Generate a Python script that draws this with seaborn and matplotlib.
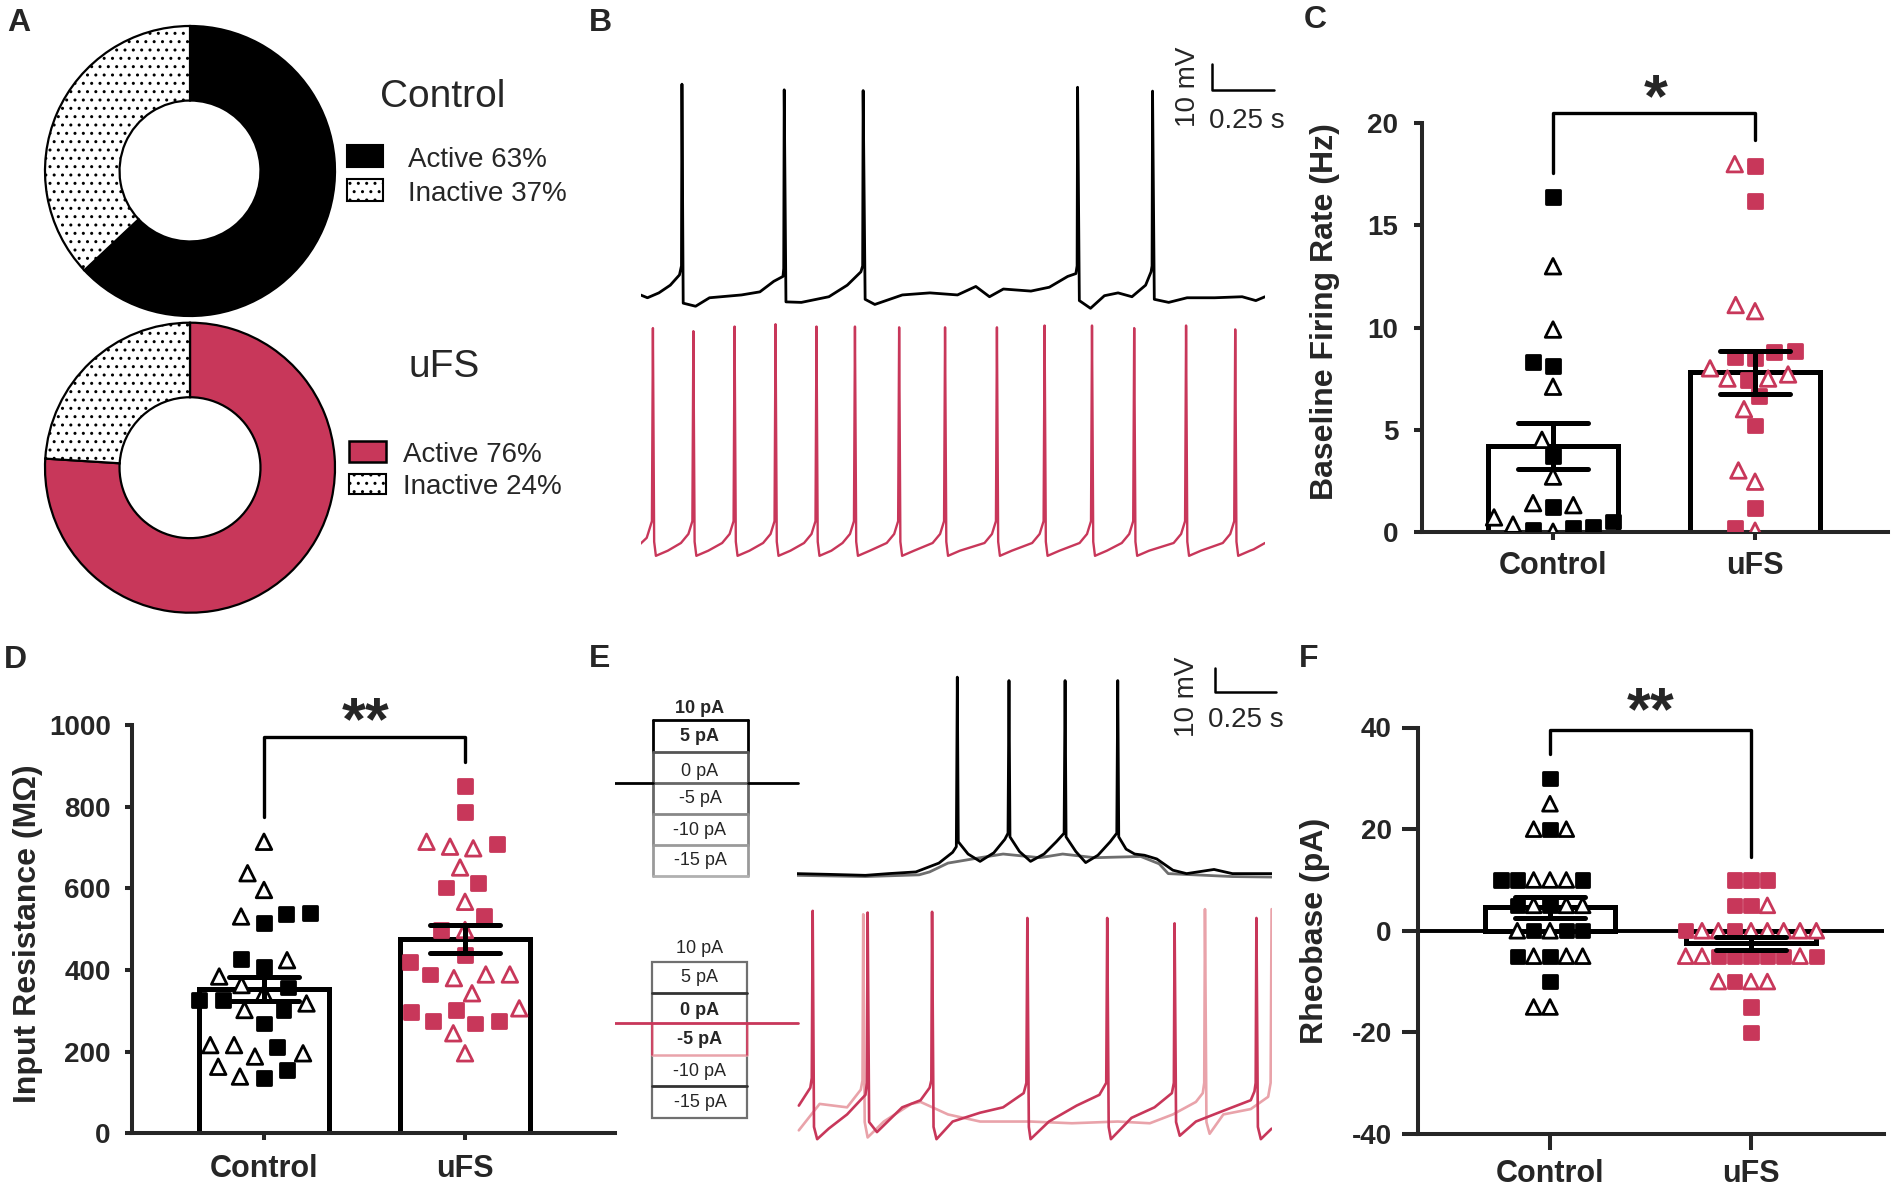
#%%
import numpy as np
import pandas as pd

import seaborn as sns
import matplotlib.pyplot as plt
from matplotlib.markers import MarkerStyle
from matplotlib.patches import Rectangle
from matplotlib.transforms import Affine2D

W, H = 1898, 1195
RED = '#C8375A'
PINK = '#E9A3AA'
GREY = '#6E6E6E'

#region data
groups = ['Control', 'uFS']

# A - donuts (percent active / inactive)
pie_ctrl = [63, 37]
pie_ufs = [76, 24]

# C - baseline firing rate (Hz), s = square (filled), t = triangle (open)
fr_ctrl = [16.4, 13.0, 9.9, 8.3, 8.1, 7.1, 4.5, 3.7, 2.7, 1.4, 0.7, 1.2, 1.3, 0.2, 0.25, 0.5, 0.0, 0.35, 0.1]
fr_ctrl_m = 'sttssttstttstssstts'
fr_ufs = [18.0, 17.9, 16.2, 10.8, 11.1, 8.8, 8.85, 8.5, 8.55, 7.5, 7.5, 7.7, 8.0, 7.45, 6.65, 6.0, 5.2,
          3.0, 2.45, 1.15, 0.2, 0.05]
fr_ufs_m = 'tssttssssttttsststtsst'

# D - input resistance (MOhm)
ir_ctrl = [714, 637, 596, 537, 531, 540, 514, 426, 424, 408, 384, 363, 357, 343, 302, 327, 318, 327, 302,
           269, 216, 216, 188, 163, 196, 212, 155, 136, 139]
ir_ctrl_m = 'tttstssststtstsstststttttssst'
ir_ufs = [851, 788, 709, 702, 698, 714, 651, 602, 614, 567, 532, 498, 498, 437, 420, 389, 389, 389, 380,
          343, 298, 306, 269, 276, 302, 275, 245, 196]
ir_ufs_m = 'sssttttsststsssttsttstsssstt'

# F - rheobase (pA)
rb_ctrl = [30, 25, 20, 20, 20, 10, 10, 10, 10, 10, 10, 5, 5, 5, 5, 5, 0, 0, 0, 0, 0,
           -5, -5, -5, -5, -5, -10, -15, -15]
rb_ctrl_m = 'st' + 'tst' + 'tttsss' + 'tstts' + 'tssts' + 'ttsst' + 's' + 'tt'
rb_ufs = [10, 10, 10, 5, 5, 5, 0, 0, 0, 0, 0, 0, 0, 0, 0, -5, -5, -5, -5, -5, -5, -5, -5, -5,
          -10, -10, -10, -10, -15, -20]
rb_ufs_m = 'sss' + 'sts' + 'tttttstts' + 'ssssttsst' + 'tstt' + 's' + 's'

# B - spontaneous firing traces (time s, mV)
b_ctrl_trace = [(0, -59.3), (0.028, -60.4), (0.074, -58.5), (0.120, -55.5), (0.157, -51.5), (0.165, -48),
                (0.167, 22.7), (0.172, -62.5), (0.222, -63.7), (0.278, -60.4), (0.407, -59.3), (0.481, -58.1),
                (0.537, -54.0), (0.574, -52.1), (0.577, -49), (0.579, 20.5), (0.586, -62), (0.648, -62.2),
                (0.759, -60), (0.833, -55.5), (0.888, -50.3), (0.895, -48), (0.897, 20.2), (0.905, -61),
                (0.944, -63), (1.055, -59.3), (1.166, -58.5), (1.277, -59.3), (1.351, -56), (1.406, -60),
                (1.462, -57), (1.573, -57.8), (1.647, -56.3), (1.721, -52.1), (1.754, -51), (1.759, -48),
                (1.761, 21.5), (1.768, -61.5), (1.813, -64.5), (1.869, -59.6), (1.924, -58.5), (1.980, -60),
                (2.035, -55.5), (2.057, -50.3), (2.061, -48), (2.063, 20), (2.070, -61), (2.128, -62.2),
                (2.202, -60.4), (2.313, -60.4), (2.424, -60), (2.479, -61.5), (2.516, -60)]
b_ufs_spikes = [0.050, 0.213, 0.379, 0.544, 0.709, 0.864, 1.042, 1.227, 1.436, 1.628, 1.819, 1.989, 2.198, 2.396]
b_ufs_peaks = [21.1, 19.9, 21.7, 22.6, 21.7, 21.7, 21.4, 21.4, 21.4, 22.1, 22.1, 21.1, 22.1, 20.6]
# levels read around each uFS spike: ramp, threshold, fall, trough, recovery, late ramp
b_ufs_levels = [-59, -54, -62, -67.5, -65.5, -62.5]

# E - current step traces
e_ctrl_10 = [(0, -60), (0.131, -60.3), (0.281, -60.7), (0.375, -60), (0.487, -59.3), (0.581, -55.7),
             (0.637, -51.3), (0.652, -49), (0.656, 20.2), (0.660, -47), (0.700, -52), (0.749, -55),
             (0.805, -51.5), (0.850, -46), (0.863, -43.5), (0.867, 18.8), (0.871, -45), (0.910, -51),
             (0.955, -55), (1.010, -52), (1.060, -47), (1.092, -43.5), (1.096, 18.8), (1.100, -45),
             (1.140, -51), (1.180, -55.5), (1.230, -52.5), (1.280, -47), (1.307, -43.5), (1.311, 18.8),
             (1.315, -45), (1.345, -50), (1.380, -52), (1.420, -52.5), (1.470, -54), (1.536, -58.6),
             (1.592, -60), (1.704, -58.3), (1.779, -60), (1.939, -60)]
e_ctrl_5 = [(0, -60.7), (0.281, -61.2), (0.500, -60.5), (0.543, -59.3), (0.618, -55.7), (0.749, -53.5),
            (0.843, -52), (0.993, -53.5), (1.086, -52), (1.217, -53.5), (1.405, -53), (1.480, -56),
            (1.517, -60), (1.779, -61.2), (1.939, -61.4)]
e_ufs_0 = [(0.009, -51.3), (0.056, -44.0), (0.062, -40), (0.0656, 28.2), (0.071, -60), (0.084, -65),
           (0.131, -60.7), (0.206, -54.9), (0.281, -46.9), (0.287, -42), (0.290, 27.5), (0.296, -58),
           (0.328, -62.1), (0.431, -52), (0.506, -49.1), (0.543, -44.0), (0.550, -41), (0.553, 27.8),
           (0.559, -60), (0.571, -65), (0.637, -57.8), (0.749, -54.2), (0.843, -52), (0.927, -46.2),
           (0.938, -42), (0.942, 25.3), (0.948, -60), (0.955, -65), (1.030, -57.8), (1.143, -51.3),
           (1.236, -46.9), (1.264, -42), (1.268, 25.3), (1.274, -60), (1.283, -65), (1.367, -56.3),
           (1.461, -52), (1.532, -46.2), (1.540, -42), (1.543, 23.1), (1.549, -58), (1.564, -63.6),
           (1.630, -57.8), (1.742, -53.4), (1.854, -49.1), (1.869, -45.5), (1.874, -42), (1.877, 25.3),
           (1.883, -60), (1.895, -65), (1.939, -60.7)]
e_ufs_m5 = [(0.009, -61.4), (0.094, -50.6), (0.206, -52), (0.262, -44.8), (0.269, -41), (0.272, 26.8),
            (0.278, -58), (0.290, -64.3), (0.356, -57.8), (0.468, -50.6), (0.506, -49.8), (0.618, -54.9),
            (0.749, -57.8), (0.955, -57.8), (1.124, -58.5), (1.311, -57.8), (1.442, -58.5), (1.536, -54.9),
            (1.630, -49.8), (1.658, -46.2), (1.664, -42), (1.667, 28.9), (1.673, -58), (1.686, -62.8),
            (1.742, -54.9), (1.854, -52.7), (1.925, -47.7), (1.935, -42), (1.939, 28.9)]

steps_top = ['10 pA', '5 pA', '0 pA', '-5 pA', '-10 pA', '-15 pA']
steps_bold_top = ['10 pA', '5 pA']
steps_bold_bot = ['0 pA', '-5 pA']
#endregion data

#%%
sns.set_style('ticks')
plt.rcParams['font.family'] = ['Liberation Sans', 'DejaVu Sans']
plt.rcParams['axes.unicode_minus'] = False
plt.rcParams['hatch.linewidth'] = 1.0

fig = plt.figure(figsize=(W / 100, H / 100), dpi=100)


def px_axes(x0, y0, x1, y1):
    return fig.add_axes([x0 / W, 1 - y1 / H, (x1 - x0) / W, (y1 - y0) / H])


ax0 = px_axes(0, 0, W, H)
ax0.set_xlim(0, W)
ax0.set_ylim(H, 0)
ax0.axis('off')

# panel letters
for lab, x, y in [('A', 7, 8), ('B', 589, 8), ('C', 1304, 5), ('D', 4, 645), ('E', 589, 644), ('F', 1299, 644)]:
    ax0.text(x, y, lab, fontsize=23, fontweight='bold', va='top', ha='left')

#%% A - donuts
def donut(cy, vals, col):
    r = 145 * 1.03
    ax = px_axes(190 - r, cy - r, 190 + r, cy + r)
    ax.pie(vals, colors=[col, 'white'], hatch=['', '..'], startangle=90, counterclock=False,
           wedgeprops=dict(width=0.514, edgecolor='black', linewidth=1.6))
    ax.set_xlim(-1.03, 1.03)
    ax.set_ylim(-1.03, 1.03)


donut(171, pie_ctrl, 'black')
donut(467.7, pie_ufs, RED)

ax0.text(380, 107, 'Control', fontsize=28, va='baseline')
ax0.text(409, 377, 'uFS', fontsize=28, va='baseline')
ax0.add_patch(Rectangle((347, 145), 36, 22, fc='black', ec='black', lw=1.5))
ax0.add_patch(Rectangle((347, 179), 36, 22, fc='white', ec='black', lw=1.5, hatch='..'))
ax0.text(408, 167, f'Active {pie_ctrl[0]}%', fontsize=20, va='baseline')
ax0.text(408, 201, f'Inactive {pie_ctrl[1]}%', fontsize=20, va='baseline')
ax0.add_patch(Rectangle((349, 441), 37, 21, fc=RED, ec='black', lw=1.8))
ax0.add_patch(Rectangle((349, 474), 37, 20, fc='white', ec='black', lw=1.5, hatch='..'))
ax0.text(403, 462, f'Active {pie_ufs[0]}%', fontsize=20, va='baseline')
ax0.text(403, 494, f'Inactive {pie_ufs[1]}%', fontsize=20, va='baseline')

#%% B - spontaneous traces
axB = px_axes(640.5, 60, 1265, 580)
t, v = zip(*b_ctrl_trace)
axB.plot(t, v, color='black', lw=2.0)

red_b = [(0.0, -62.8), (0.025, -60.5)]
for i, ts in enumerate(b_ufs_spikes):
    lv = b_ufs_levels
    red_b += [(ts - 0.02, lv[0]), (ts - 0.004, lv[1]), (ts, b_ufs_peaks[i]), (ts + 0.005, lv[2]),
              (ts + 0.012, lv[3]), (ts + 0.06, lv[4])]
    if i < len(b_ufs_spikes) - 1:
        red_b.append((b_ufs_spikes[i + 1] - 0.05, lv[5]))
red_b += [(2.47, -65), (2.516, -62.5)]
t, v = zip(*red_b)
axB.plot(t, np.array(v) - 93.3, color=RED, lw=1.7)
axB.set_xlim(0, 2.516)
axB.set_ylim(-170.2, 32.1)
axB.axis('off')
axB.plot([2.304, 2.304, 2.554], [30.5, 20.5, 20.5], color='black', lw=1.8, clip_on=False)
axB.text(2.204, 21.8, '10 mV', rotation=90, fontsize=20, ha='center', va='center')
axB.text(2.441, 8.4, '0.25 s', fontsize=20, ha='center', va='center')

#%% E - current steps and traces
axE = px_axes(796.6, 660, 1271.6, 1160)
for trace, col, lw, off in [(e_ctrl_5, GREY, 2.0, 0), (e_ctrl_10, 'black', 2.0, 0),
                            (e_ufs_m5, PINK, 1.9, -103.4), (e_ufs_0, RED, 1.9, -103.4)]:
    t, v = zip(*trace)
    axE.plot(t, np.array(v) + off, color=col, lw=lw)
axE.set_xlim(0, 1.939)
axE.set_ylim(-176.9, 27.2)
axE.axis('off')
axE.plot([1.708, 1.708, 1.958], [24.0, 14.0, 14.0], color='black', lw=1.8, clip_on=False)
axE.text(1.592, 12.2, '10 mV', rotation=90, fontsize=20, ha='center', va='center')
axE.text(1.834, 2.8, '0.25 s', fontsize=20, ha='center', va='center')

# step schematics
top_lv = [720, 751.7, 782.7, 814, 845, 875.7]
top_col = ['black', '#555555', '#666666', '#888888', '#9a9a9a', '#b0b0b0']
bx0, bx1 = 653.3, 747.7
for i in range(5):
    for xx in (bx0, bx1):
        ax0.plot([xx, xx], [top_lv[i], top_lv[i + 1]], color=top_col[i], lw=2)
for lv, col in zip(top_lv, top_col):
    ax0.plot([bx0, bx1], [lv, lv], color=col, lw=2)
ax0.plot([603.3, bx0], [782.7, 782.7], color='black', lw=2)
ax0.plot([bx1, 797.7], [782.7, 782.7], color='black', lw=2)
for lab, y in zip(steps_top, [708.3, 736.7, 771, 798.3, 830, 860.7]):
    ax0.text(700, y, lab, fontsize=13, ha='center', va='center',
             fontweight='bold' if lab in steps_bold_top else 'normal')

bot_lv = [961.7, 992.7, 1023.3, 1055, 1086, 1117.7]
cx0, cx1 = 652.3, 746.7
ax0.add_patch(Rectangle((cx0, bot_lv[0]), cx1 - cx0, bot_lv[-1] - bot_lv[0], fill=False, ec='#707070', lw=1.6))
ax0.plot([cx0, cx1], [bot_lv[1], bot_lv[1]], color='#333333', lw=2)
ax0.plot([cx0, cx1], [bot_lv[4], bot_lv[4]], color='#333333', lw=2)
ax0.plot([cx0, cx0, cx1, cx1], [bot_lv[2], bot_lv[3], bot_lv[3], bot_lv[2]], color=PINK, lw=1.8)
ax0.plot([cx0, cx0], [bot_lv[2], bot_lv[3]], color=RED, lw=1.2)
ax0.plot([cx1, cx1], [bot_lv[2], bot_lv[3]], color=RED, lw=1.2)
ax0.plot([603.3, 797.7], [bot_lv[2], bot_lv[2]], color=RED, lw=2)
for lab, y in zip(steps_top, [948.3, 977.3, 1010, 1040, 1071.7, 1102.3]):
    ax0.text(700, y, lab, fontsize=13, ha='center', va='center',
             fontweight='bold' if lab in steps_bold_bot else 'normal')

#%% bar + swarm panels
SQ = MarkerStyle('s')
SQ_PATH = SQ.get_path().transformed(SQ.get_transform())
TR = MarkerStyle('^')
TR_PATH = TR.get_path().transformed(TR.get_transform().scale(1.12))


def bar_panel(ax, ctrl, ctrl_m, ufs, ufs_m, spread, vis=9.6):
    # spread = swarm spacing size (pt), vis = drawn marker size (pt)
    assert len(ctrl) == len(ctrl_m) and len(ufs) == len(ufs_m)
    df = pd.DataFrame({'group': ['Control'] * len(ctrl) + ['uFS'] * len(ufs),
                       'value': ctrl + ufs, 'mark': list(ctrl_m + ufs_m)})
    sns.barplot(data=df, x='group', y='value', order=groups, errorbar='se', capsize=0.35, width=0.647,
                color='white', edgecolor='black', linewidth=3.6,
                err_kws={'color': 'black', 'linewidth': 3.6}, ax=ax)
    n0 = len(ax.collections)
    sns.swarmplot(data=df, x='group', y='value', order=groups, size=spread, linewidth=2.0, color='black', ax=ax)
    k = Affine2D().scale(vis / spread)
    sq, tr = SQ_PATH.transformed(k), TR_PATH.transformed(k)
    for coll, g in zip(ax.collections[n0:], groups):
        marks = df.loc[df.group == g, 'mark']
        col = 'black' if g == 'Control' else RED
        coll.set_paths([sq if m == 's' else tr for m in marks])
        coll.set_facecolors([col if m == 's' else 'white' for m in marks])
        coll.set_edgecolors(col)
        coll.set_zorder(3)
    for ln in ax.lines:
        ln.set_zorder(4)


def style(ax, xlim, ylim, yticks, ylabel, tick_len, xpad, ypad, label_xy):
    ax.set_xlim(xlim)
    ax.set_ylim(ylim)
    ax.set_yticks(yticks)
    ax.set_xlabel('')
    ax.set_ylabel(ylabel, fontsize=23, fontweight='bold')
    ax.yaxis.set_label_coords(*label_xy)
    sns.despine(ax=ax)
    for s in ['left', 'bottom']:
        ax.spines[s].set_linewidth(2.9)
    ax.tick_params(axis='both', width=2.9, length=tick_len)
    ax.tick_params(axis='y', labelsize=20, pad=ypad)
    ax.tick_params(axis='x', labelsize=22, pad=xpad)
    for tl in ax.get_xticklabels() + ax.get_yticklabels():
        tl.set_fontweight('bold')


def bracket(ax, left, top, right):
    ax.plot([0, 0, 1, 1], [left, top, top, right], color='black', lw=2.4, clip_on=False)


def stars(x, y, s):
    # y is the visual centre of the asterisks in pixels
    ax0.text(x, y + 28, s, fontsize=44, fontweight='bold', ha='center', va='baseline')


axC = px_axes(1421.7, 123.3, 1888, 531.7)
bar_panel(axC, fr_ctrl, fr_ctrl_m, fr_ufs, fr_ufs_m, spread=12, vis=10.0)
style(axC, (-0.650, 1.658), (0, 20), [0, 5, 10, 15, 20], 'Baseline Firing Rate (Hz)', 5.8, 8, 11,
      (-0.175, 0.54))
bracket(axC, 17.55, 20.5, 19.2)
stars(1656, 88.6, '*')

axD = px_axes(131.7, 725, 615, 1133.3)
bar_panel(axD, ir_ctrl, ir_ctrl_m, ir_ufs, ir_ufs_m, spread=14.5, vis=10.0)
style(axD, (-0.658, 1.746), (0, 1000), [0, 200, 400, 600, 800, 1000], 'Input Resistance (M\u03A9)', 5, 10, 10,
      (-0.184, 0.49))
bracket(axD, 775, 971, 910)
stars(366, 711, '**')

axF = px_axes(1417.5, 727.5, 1883.5, 1134)
bar_panel(axF, rb_ctrl, rb_ctrl_m, rb_ufs, rb_ufs_m, spread=9.2, vis=9.5)
axF.axhline(0, color='black', lw=2.8, zorder=2)
style(axF, (-0.659, 1.659), (-40, 40), [-40, -20, 0, 20, 40], 'Rheobase (pA)', 11.5, 6.5, 7,
      (-0.187, 0.5))
bracket(axF, 34.8, 39.5, 14.6)
stars(1651, 701, '**')

fig.savefig('out.png', dpi=100)
